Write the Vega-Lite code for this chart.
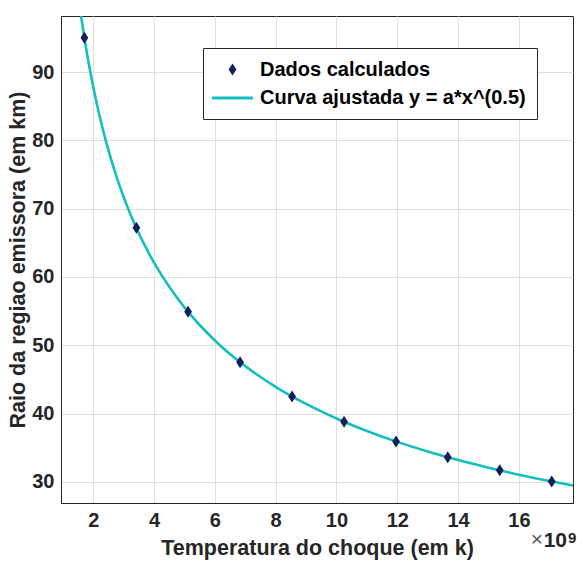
{
  "$schema": "https://vega.github.io/schema/vega-lite/v6.json",
  "autosize": "none",
  "width": 512,
  "height": 487,
  "padding": {"left": 61, "top": 16, "right": 4, "bottom": 62},
  "background": "white",
  "config": {
    "view": {"stroke": "#262626", "strokeWidth": 1},
    "font": "Liberation Sans",
    "axis": {
      "gridColor": "#dfdfdf",
      "gridWidth": 1,
      "domainColor": "#262626",
      "tickColor": "#262626",
      "tickSize": 0,
      "labelFont": "Liberation Sans",
      "labelFontWeight": "bold",
      "labelFontSize": 20,
      "labelColor": "#262626",
      "titleFont": "Liberation Sans",
      "titleFontWeight": "bold",
      "titleFontSize": 21.5,
      "titleColor": "#262626"
    }
  },
  "layer": [
    {
      "data": {"values": [
        {"x": 1.5, "y": 101.41, "series": "Curva ajustada y = a*x^(0.5)"},
        {"x": 1.6, "y": 98.19, "series": "Curva ajustada y = a*x^(0.5)"},
        {"x": 1.7, "y": 95.26, "series": "Curva ajustada y = a*x^(0.5)"},
        {"x": 1.8, "y": 92.57, "series": "Curva ajustada y = a*x^(0.5)"},
        {"x": 1.9, "y": 90.10, "series": "Curva ajustada y = a*x^(0.5)"},
        {"x": 2.0, "y": 87.82, "series": "Curva ajustada y = a*x^(0.5)"},
        {"x": 2.2, "y": 83.74, "series": "Curva ajustada y = a*x^(0.5)"},
        {"x": 2.4, "y": 80.17, "series": "Curva ajustada y = a*x^(0.5)"},
        {"x": 2.6, "y": 77.02, "series": "Curva ajustada y = a*x^(0.5)"},
        {"x": 2.8, "y": 74.22, "series": "Curva ajustada y = a*x^(0.5)"},
        {"x": 3.0, "y": 71.71, "series": "Curva ajustada y = a*x^(0.5)"},
        {"x": 3.25, "y": 68.89, "series": "Curva ajustada y = a*x^(0.5)"},
        {"x": 3.5, "y": 66.39, "series": "Curva ajustada y = a*x^(0.5)"},
        {"x": 3.75, "y": 64.14, "series": "Curva ajustada y = a*x^(0.5)"},
        {"x": 4.0, "y": 62.10, "series": "Curva ajustada y = a*x^(0.5)"},
        {"x": 4.5, "y": 58.55, "series": "Curva ajustada y = a*x^(0.5)"},
        {"x": 5.0, "y": 55.54, "series": "Curva ajustada y = a*x^(0.5)"},
        {"x": 5.5, "y": 52.96, "series": "Curva ajustada y = a*x^(0.5)"},
        {"x": 6.0, "y": 50.70, "series": "Curva ajustada y = a*x^(0.5)"},
        {"x": 7.0, "y": 46.94, "series": "Curva ajustada y = a*x^(0.5)"},
        {"x": 8.0, "y": 43.91, "series": "Curva ajustada y = a*x^(0.5)"},
        {"x": 9.0, "y": 41.40, "series": "Curva ajustada y = a*x^(0.5)"},
        {"x": 10.0, "y": 39.28, "series": "Curva ajustada y = a*x^(0.5)"},
        {"x": 11.0, "y": 37.45, "series": "Curva ajustada y = a*x^(0.5)"},
        {"x": 12.0, "y": 35.85, "series": "Curva ajustada y = a*x^(0.5)"},
        {"x": 13.0, "y": 34.45, "series": "Curva ajustada y = a*x^(0.5)"},
        {"x": 14.0, "y": 33.19, "series": "Curva ajustada y = a*x^(0.5)"},
        {"x": 15.0, "y": 32.07, "series": "Curva ajustada y = a*x^(0.5)"},
        {"x": 16.0, "y": 31.05, "series": "Curva ajustada y = a*x^(0.5)"},
        {"x": 17.0, "y": 30.12, "series": "Curva ajustada y = a*x^(0.5)"},
        {"x": 17.78, "y": 29.45, "series": "Curva ajustada y = a*x^(0.5)"}
      ]},
      "mark": {"type": "line", "clip": true, "strokeWidth": 2.6, "interpolate": "monotone"},
      "encoding": {
        "x": {"field": "x", "type": "quantitative",
              "scale": {"domain": [0.94, 17.78], "nice": false, "zero": false},
              "axis": {"values": [2, 4, 6, 8, 10, 12, 14, 16], "title": "Temperatura do choque (em k)", "labelPadding": 7, "titlePadding": 7, "grid": true}},
        "y": {"field": "y", "type": "quantitative",
              "scale": {"domain": [26.9, 98.2], "nice": false, "zero": false},
              "axis": {"values": [30, 40, 50, 60, 70, 80, 90], "title": "Raio da regiao emissora (em km)", "labelPadding": 7, "titlePadding": 2, "grid": true}},
        "color": {"field": "series", "type": "nominal",
                  "scale": {"domain": ["Dados calculados", "Curva ajustada y = a*x^(0.5)"], "range": ["#12205a", "#13bfc0"]},
                  "legend": {
                    "title": null,
                    "orient": "none",
                    "legendX": 142,
                    "legendY": 32,
                    "fillColor": "white",
                    "strokeColor": "#262626",
                    "padding": 11,
                    "labelFont": "Liberation Sans",
                    "labelFontWeight": "bold",
                    "labelFontSize": 20,
                    "labelColor": "black",
                    "labelLimit": 600,
                    "labelOffset": 17,
                    "symbolSize": 420,
                    "symbolStrokeWidth": 0,
                    "symbolOffset": 8,
                    "rowPadding": 7.5
                  }}
      }
    },
    {
      "data": {"values": [
        {"x": 1.71, "y": 95.0, "series": "Dados calculados"},
        {"x": 3.42, "y": 67.2, "series": "Dados calculados"},
        {"x": 5.12, "y": 54.9, "series": "Dados calculados"},
        {"x": 6.83, "y": 47.5, "series": "Dados calculados"},
        {"x": 8.54, "y": 42.5, "series": "Dados calculados"},
        {"x": 10.25, "y": 38.8, "series": "Dados calculados"},
        {"x": 11.96, "y": 35.9, "series": "Dados calculados"},
        {"x": 13.66, "y": 33.6, "series": "Dados calculados"},
        {"x": 15.37, "y": 31.7, "series": "Dados calculados"},
        {"x": 17.08, "y": 30.05, "series": "Dados calculados"}
      ]},
      "mark": {"type": "point", "filled": true, "opacity": 1, "size": 420},
      "encoding": {
        "x": {"field": "x", "type": "quantitative"},
        "y": {"field": "y", "type": "quantitative"},
        "color": {"field": "series", "type": "nominal"},
        "shape": {"field": "series", "type": "nominal",
                  "scale": {"domain": ["Dados calculados", "Curva ajustada y = a*x^(0.5)"], "range": ["M0,-0.585L0.38,0L0,0.585L-0.38,0Z", "M-2,-0.14L2,-0.14L2,0.14L-2,0.14Z"]}}
      }
    },
    {
      "data": {"values": [{"times": "×", "ten": "10", "sup": "9"}]},
      "mark": {"type": "text", "align": "right", "baseline": "alphabetic", "dx": -6, "dy": 44, "fontSize": 21, "fontWeight": "bold", "color": "#262626", "clip": false},
      "encoding": {
        "x": {"datum": 17.78, "type": "quantitative"},
        "y": {"datum": 26.9, "type": "quantitative"},
        "text": {"field": "ten"}
      }
    },
    {
      "data": {"values": [{"times": "×", "ten": "10", "sup": "9"}]},
      "mark": {"type": "text", "align": "right", "baseline": "alphabetic", "dx": -30, "dy": 43, "fontSize": 21, "fontWeight": "normal", "color": "#555555", "clip": false},
      "encoding": {
        "x": {"datum": 17.78, "type": "quantitative"},
        "y": {"datum": 26.9, "type": "quantitative"},
        "text": {"field": "times"}
      }
    },
    {
      "data": {"values": [{"times": "×", "ten": "10", "sup": "9"}]},
      "mark": {"type": "text", "align": "left", "baseline": "alphabetic", "dx": -5, "dy": 40, "fontSize": 15, "fontWeight": "bold", "color": "#262626", "clip": false},
      "encoding": {
        "x": {"datum": 17.78, "type": "quantitative"},
        "y": {"datum": 26.9, "type": "quantitative"},
        "text": {"field": "sup"}
      }
    }
  ]
}
